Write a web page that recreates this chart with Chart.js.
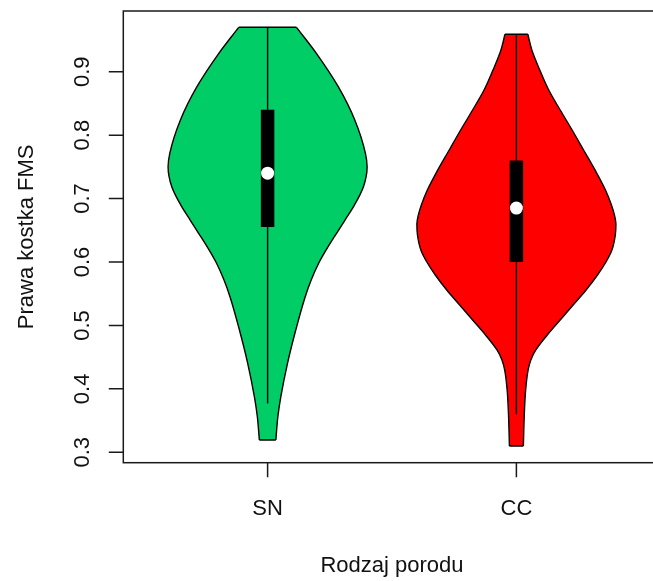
<!DOCTYPE html>
<html>
<head>
<meta charset="utf-8">
<script src="https://cdn.jsdelivr.net/npm/chart.js@4/dist/chart.umd.min.js"></script>
<style>
  html, body { margin: 0; padding: 0; background: #fff; overflow: hidden; }
  #wrap { width: 653px; height: 581px; overflow: hidden; }
  canvas { display: block; }
</style>
</head>
<body>
<div id="wrap"><canvas id="c" width="671" height="581"></canvas></div>
<script>
// Groups and their colours
const categories = ['SN', 'CC'];
const fillColors = ['#00CD66', '#FF0000'];

// Kernel density outlines: value levels (ascending) and relative density (max = 1)
const snLevels  = [0.3194, 0.3561, 0.3877, 0.4403, 0.4928, 0.5453, 0.5716, 0.5980, 0.6241, 0.6453, 0.6662, 0.6872, 0.7187, 0.7503, 0.7714, 0.8239, 0.8764, 0.9290, 0.9700];
const snDensity = [0.083, 0.103, 0.133, 0.200, 0.283, 0.378, 0.438, 0.513, 0.608, 0.693, 0.778, 0.863, 0.963, 1.000, 0.983, 0.876, 0.710, 0.490, 0.290];

const ccLevels  = [0.3099, 0.3620, 0.3982, 0.4298, 0.4455, 0.4613, 0.4849, 0.5086, 0.5322, 0.5559, 0.5795, 0.6000, 0.6189, 0.6426, 0.6599, 0.6741, 0.6899, 0.7135, 0.7451, 0.7766, 0.8081, 0.8396, 0.8711, 0.9027, 0.9342, 0.9590];
const ccDensity = [0.070, 0.080, 0.093, 0.118, 0.145, 0.195, 0.310, 0.440, 0.570, 0.700, 0.815, 0.900, 0.960, 0.994, 1.000, 0.985, 0.955, 0.895, 0.790, 0.675, 0.560, 0.440, 0.325, 0.235, 0.155, 0.115];

// Box summaries: lower whisker, Q1, median, Q3, upper whisker
const snStats = [0.377, 0.655, 0.740, 0.840, 0.970];
const ccStats = [0.360, 0.600, 0.685, 0.760, 0.959];

// Axis ticks and titles
const yTicks = [0.3, 0.4, 0.5, 0.6, 0.7, 0.8, 0.9];
const yTickLabels = ['0.3', '0.4', '0.5', '0.6', '0.7', '0.8', '0.9'];
const xTitle = 'Rodzaj porodu';
const yTitle = 'Prawa kostka FMS';

const halfWidth = 0.4;   // violin half-width at maximum density (x units)
const FONT = '22px "Liberation Sans", Arial, sans-serif';
const EDGE = '#000';
const EDGE_W = 1.4;

const groups = [
  { levels: snLevels, dens: snDensity, stats: snStats },
  { levels: ccLevels, dens: ccDensity, stats: ccStats }
];

function side(pos, levels, dens, sign) {
  return levels.map((v, i) => ({ x: pos + sign * dens[i] * halfWidth, y: v }));
}

const datasets = [];
groups.forEach((g, i) => {
  const pos = i + 1;
  const n = g.levels.length;
  // right edge, filled across to the left edge (next dataset)
  datasets.push({
    label: categories[i] + ' right',
    data: side(pos, g.levels, g.dens, 1),
    fill: '+1', backgroundColor: fillColors[i],
    borderColor: EDGE, borderWidth: EDGE_W,
    cubicInterpolationMode: 'monotone', pointRadius: 0, order: 4
  });
  datasets.push({
    label: categories[i] + ' left',
    data: side(pos, g.levels, g.dens, -1),
    fill: false, borderColor: EDGE, borderWidth: EDGE_W,
    cubicInterpolationMode: 'monotone', pointRadius: 0, order: 3
  });
  // flat ends of the violin at the data extremes
  [0, n - 1].forEach(k => {
    datasets.push({
      label: categories[i] + ' end',
      data: [{ x: pos - g.dens[k] * halfWidth, y: g.levels[k] }, { x: pos + g.dens[k] * halfWidth, y: g.levels[k] }],
      fill: false, borderColor: EDGE, borderWidth: EDGE_W, pointRadius: 0, order: 3
    });
  });
  datasets.push({
    label: categories[i] + ' whisker',
    data: [{ x: pos, y: g.stats[0] }, { x: pos, y: g.stats[4] }],
    fill: false, borderColor: '#000', borderWidth: EDGE_W, pointRadius: 0, order: 2
  });
  datasets.push({
    label: categories[i] + ' box',
    data: [{ x: pos, y: g.stats[1] }, { x: pos, y: g.stats[3] }],
    fill: false, borderColor: '#000', borderWidth: 13.5, borderCapStyle: 'butt',
    pointRadius: 0, order: 1
  });
  datasets.push({
    label: categories[i] + ' median',
    data: [{ x: pos, y: g.stats[2] }],
    showLine: false, fill: false, pointRadius: 6.5, pointBackgroundColor: '#fff',
    pointBorderWidth: 0, order: 0
  });
});

// Frame, ticks, tick labels and axis titles in base-graphics style
const axesPlugin = {
  id: 'baseAxes',
  afterDraw(chart) {
    const { ctx, chartArea: a, scales: { x, y } } = chart;
    ctx.save();
    ctx.strokeStyle = '#1a1a1a';
    ctx.lineWidth = 1.5;
    ctx.strokeRect(a.left, a.top, a.right - a.left, a.bottom - a.top);

    const tick = 14.5;
    ctx.fillStyle = '#111';
    ctx.font = FONT;

    // y axis
    ctx.beginPath();
    yTicks.forEach(v => {
      const py = y.getPixelForValue(v);
      ctx.moveTo(a.left - tick, py); ctx.lineTo(a.left, py);
    });
    ctx.stroke();
    ctx.textAlign = 'center';
    ctx.textBaseline = 'alphabetic';
    yTicks.forEach((v, i) => {
      const py = y.getPixelForValue(v);
      ctx.save();
      ctx.translate(a.left - 34.5, py);
      ctx.rotate(-Math.PI / 2);
      ctx.fillText(yTickLabels[i], 0, 0);
      ctx.restore();
    });

    // x axis
    ctx.beginPath();
    categories.forEach((c, i) => {
      const px = x.getPixelForValue(i + 1);
      ctx.moveTo(px, a.bottom); ctx.lineTo(px, a.bottom + tick);
    });
    ctx.stroke();
    categories.forEach((c, i) => {
      ctx.fillText(c, x.getPixelForValue(i + 1), a.bottom + 52);
    });

    // titles
    ctx.fillText(xTitle, (a.left + a.right) / 2, a.bottom + 109);
    ctx.save();
    ctx.translate(33, (a.top + a.bottom) / 2);
    ctx.rotate(-Math.PI / 2);
    ctx.fillText(yTitle, 0, 0);
    ctx.restore();
    ctx.restore();
  }
};

new Chart(document.getElementById('c'), {
  type: 'line',
  data: { datasets },
  options: {
    indexAxis: 'y',
    responsive: false,
    animation: false,
    layout: { padding: { left: 123.3, top: 11, right: 10.3, bottom: 118.3 } },
    plugins: { legend: { display: false }, tooltip: { enabled: false } },
    scales: {
      x: { type: 'linear', min: 0.42, max: 2.58, display: false },
      y: { type: 'linear', min: 0.2836, max: 0.9957, display: false }
    }
  },
  plugins: [axesPlugin]
});
</script>
</body>
</html>
